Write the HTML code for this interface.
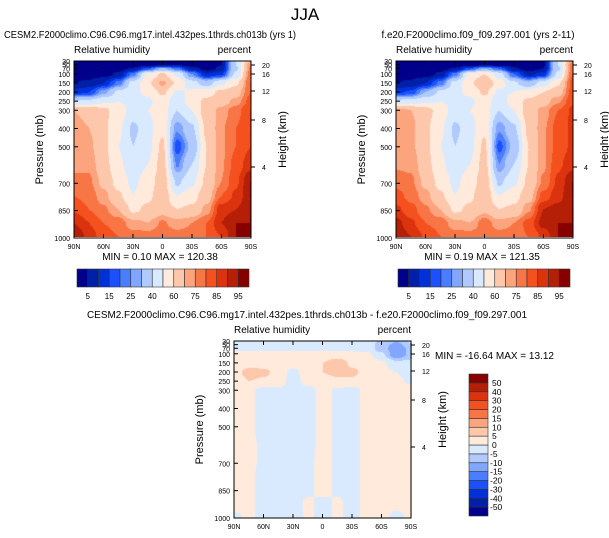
<!DOCTYPE html>
<html><head><meta charset="utf-8"><style>
body{margin:0;background:#fff;width:609px;height:538px;overflow:hidden;position:relative;font-family:"Liberation Sans",sans-serif}
canvas{position:absolute}
svg{position:absolute;left:0;top:0}
</style></head><body>
<canvas id="c1" width="177" height="176" style="left:74px;top:61px"></canvas>
<canvas id="c2" width="177" height="176" style="left:396px;top:61px"></canvas>
<canvas id="c3" width="178" height="177" style="left:234px;top:341px"></canvas>
<svg id="s" width="609" height="538"></svg>
<script>
const lats=[90,75,60,45,30,15,0,-15,-30,-45,-60,-75,-90];
const levs=[30,50,70,100,150,200,250,300,400,500,600,700,775,850,925,1000];
const rh1=[
[2,2,2,2,2,2,3,3,3,2,5,40,70],
[2,2,2,2,2,3,5,5,3,2,5,40,75],
[2,2,2,3,6,18,32,22,8,3,6,38,76],
[3,3,3,6,22,52,62,48,25,10,14,42,78],
[5,6,10,22,44,58,72,58,44,35,48,58,80],
[12,15,28,42,48,52,62,48,52,56,62,66,80],
[40,42,48,50,46,48,55,44,55,62,66,72,82],
[70,68,62,55,46,50,55,40,50,65,72,78,85],
[72,70,62,52,38,46,58,26,38,62,74,80,85],
[72,72,62,50,40,47,62,17,32,60,74,80,85],
[74,74,64,52,44,50,64,24,40,60,74,82,88],
[76,76,68,56,48,55,66,38,48,62,75,84,95],
[80,78,72,62,50,58,66,50,56,66,80,86,95],
[84,80,76,70,58,62,66,60,62,72,88,90,95],
[90,85,80,78,72,70,76,72,75,80,90,95,95],
[95,88,82,80,78,78,80,78,78,80,85,95,95]];
const rh2=[
[2,2,2,2,2,2,3,3,2,2,4,40,75],
[2,2,2,2,2,3,5,4,3,2,4,40,78],
[2,2,2,3,6,18,30,20,6,3,5,38,78],
[3,3,3,6,22,52,60,45,20,8,12,42,80],
[5,6,10,22,44,58,70,55,42,32,45,58,82],
[14,16,30,42,48,52,62,48,50,54,60,66,82],
[42,44,48,50,46,48,55,44,55,62,66,74,84],
[72,70,64,55,46,50,55,40,50,65,72,80,86],
[74,72,62,52,38,46,58,26,38,62,74,82,86],
[72,72,62,50,40,47,62,18,32,60,74,82,86],
[74,74,64,52,44,50,64,25,40,60,74,84,88],
[78,76,68,56,48,55,66,38,48,62,76,86,95],
[82,78,72,62,50,58,68,50,56,66,82,88,95],
[86,82,76,70,58,62,68,60,62,74,90,92,95],
[92,86,80,78,72,70,78,72,75,82,92,95,95],
[95,90,84,80,78,78,80,78,78,80,86,95,95]];
const diff=[
[-2,-2,-2,-2,-2,-2,-2,-2,-2,-2,-6,-10,-4],
[-2,-2,-2,-2,-2,-2,-2,-2,-2,-2,-8,-12,-6],
[-1,-1,-1,-1,-1,-1,-1,-1,-1,-2,-8,-14,-8],
[1,1,1,1,1,2,2,2,1,1,-4,-15,-8],
[2,3,3,2,3,4,5,8,4,3,1,-3,-3],
[3,7,6,3,-2,4,5,6,6,3,1,0,-2],
[2,5,4,2,-2,2,3,4,4,2,1,1,-1],
[3,1,-2,-1,-2,-2,2,-1,-2,2,1,1,3],
[3,1,-2,-1,-2,-2,2,-1,-2,2,1,1,3],
[4,1,-2,-1,-2,-2,2,-1,-2,2,1,1,3],
[4,1,-1,-1,-2,-2,2,-1,-2,2,1,1,3],
[4,1,-1,-1,-2,-1,2,-1,-2,2,1,1,3],
[4,1,-2,-1,-2,-1,2,-1,-2,2,1,1,3],
[3,1,-2,-1,-2,-1,2,-1,-2,2,1,1,2],
[2,1,-2,-1,-2,1,-2,1,-2,2,1,1,1],
[-1,1,-2,-1,-2,1,-2,1,-2,2,1,-1,1]];
const lev1=[5,10,15,20,25,30,40,50,60,70,75,80,85,90,95];
const lev1Labels=["5","15","25","40","60","75","85","95"];
const levD=[-50,-40,-30,-20,-15,-10,-5,0,5,10,15,20,30,40,50];
const cols=["#00008a","#0020a8","#0030d8","#1a50ff","#4a7dff","#80a6ff","#b0caff","#d9eaff","#ffeadb","#fdc7ab","#fba47d","#f87546","#f5511f","#dc330f","#b61f07","#860000"];
const pTicks=[30,50,70,100,150,200,250,300,400,500,700,850,1000];
const hTicks=[[20,65],[16,74],[12,91],[8,120],[4,167]];
const latTicks=[90,60,30,0,-30,-60,-90];
const latNames=["90N","60N","30N","0","30S","60S","90S"];
const NS="http://www.w3.org/2000/svg";
const s=document.getElementById('s');
function el(tag,at,txt){const e=document.createElementNS(NS,tag);for(const k in at)e.setAttribute(k,at[k]);if(txt!==undefined)e.textContent=txt;s.appendChild(e);return e;}
function hex(c){return [parseInt(c.slice(1,3),16),parseInt(c.slice(3,5),16),parseInt(c.slice(5,7),16)];}
function sample(g,lat,p){
 let i=0;while(i<lats.length-2&&lat<lats[i+1])i++;
 let j=0;while(j<levs.length-2&&p>levs[j+1])j++;
 let fx=(lats[i]-lat)/(lats[i]-lats[i+1]),fy=(p-levs[j])/(levs[j+1]-levs[j]);
 fx=fx*fx*(3-2*fx);fy=fy*fy*(3-2*fy);
 const a=g[j][i],b=g[j][i+1],c=g[j+1][i],d=g[j+1][i+1];
 return (a*(1-fx)+b*fx)*(1-fy)+(c*(1-fx)+d*fx)*fy;}
function draw(id,g,lv){
 const cv=document.getElementById(id),ctx=cv.getContext('2d'),W=cv.width,H=cv.height;
 const im=ctx.createImageData(W,H);
 for(let y=0;y<H;y++)for(let x=0;x<W;x++){
  const lat=90-180*x/(W-1),p=30+970*y/(H-1);
  const v=sample(g,lat,p);let k=0;while(k<lv.length&&v>=lv[k])k++;
  const c=hex(cols[k]),o=(y*W+x)*4;im.data[o]=c[0];im.data[o+1]=c[1];im.data[o+2]=c[2];im.data[o+3]=255;}
 ctx.putImageData(im,0,0);}
draw('c1',rh1,lev1);draw('c2',rh2,lev1);draw('c3',diff,levD);
el('text',{x:305,y:20,'font-size':17,'text-anchor':'middle',},'JJA');
function panel(x0,y0,title,tx,tl,mm,mmx,mmy,nm){
 const W=177,H=177,py=p=>y0+(p-30)/970*H,lx=l=>x0+(90-l)/180*W;
 el('text',{x:tx,y:y0-23,'font-size':10,'text-anchor':'middle',textLength:tl,lengthAdjust:'spacingAndGlyphs',},title);
 el('text',{x:x0,y:y0-8,'font-size':10,},'Relative humidity');
 el('text',{x:x0+W,y:y0-8,'font-size':10,'text-anchor':'end',},'percent');
 el('rect',{x:x0,y:y0,width:W,height:H,fill:'none',stroke:'#000','stroke-width':1,});
 pTicks.forEach(p=>{const y=py(p);el('line',{x1:x0,x2:x0+4,y1:y,y2:y,stroke:'#000'});
  el('text',{x:x0-4,y:y+3,'font-size':7,'text-anchor':'end',},p);});
 hTicks.forEach(h=>{const y=y0+h[1]-61;el('line',{x1:x0+W,x2:x0+W+4,y1:y,y2:y,stroke:'#000'});
  el('text',{x:x0+W+11,y:y+3,'font-size':7,},h[0]);});
 latTicks.forEach((l,i)=>{const x=lx(l);el('line',{x1:x,x2:x,y1:y0+H,y2:y0+H-4,stroke:'#000'});el('line',{x1:x,x2:x,y1:y0,y2:y0+4,stroke:'#000'});
  el('text',{x:x,y:y0+H+11,'font-size':7,'text-anchor':'middle',},latNames[i]);});
 el('text',{x:x0-31,y:y0+H/2,'font-size':11,'text-anchor':'middle',transform:`rotate(-90 ${x0-31} ${y0+H/2})`,},'Pressure (mb)');
 const hx=x0+W+35;
 el('text',{x:hx,y:y0+H/2-10,'font-size':11,'text-anchor':'middle',transform:`rotate(-90 ${hx} ${y0+H/2-10})`,},'Height (km)');
 el('text',{x:mmx,y:mmy,'font-size':10,'text-anchor':mmx<x0+W?'middle':'start','xml:space':'preserve',},mm);}
panel(74,61,'CESM2.F2000climo.C96.C96.mg17.intel.432pes.1thrds.ch013b (yrs 1)',150,292,'MIN =   0.10  MAX = 120.38',160,260,'control');
panel(396,61,'f.e20.F2000climo.f09_f09.297.001 (yrs 2-11)',478,193,'MIN =   0.19  MAX = 121.35',482,260,'reference');
panel(234,341,'CESM2.F2000climo.C96.C96.mg17.intel.432pes.1thrds.ch013b - f.e20.F2000climo.f09_f09.297.001',307,440,'MIN = -16.64  MAX =  13.12',435,359,'difference');
function hbar(x0,nm){const w=172/16;
 cols.forEach((c,i)=>el('rect',{x:x0+i*w,y:269,width:w,height:18,fill:c,stroke:'#333','stroke-width':0.6,}));
 lev1Labels.forEach((t,i)=>el('text',{x:x0+(2*i+1)*w,y:299,'font-size':8,'text-anchor':'middle',},t));}
hbar(77,'control');hbar(398,'reference');
const vh=142/16;
cols.forEach((c,i)=>el('rect',{x:469,y:516-(i+1)*vh,width:19,height:vh,fill:c,stroke:'#333','stroke-width':0.6,}));
levD.forEach((t,i)=>el('text',{x:t<0?490:492,y:516-(i+1)*vh+3,'font-size':8.5,},t));
</script>
</body></html>
